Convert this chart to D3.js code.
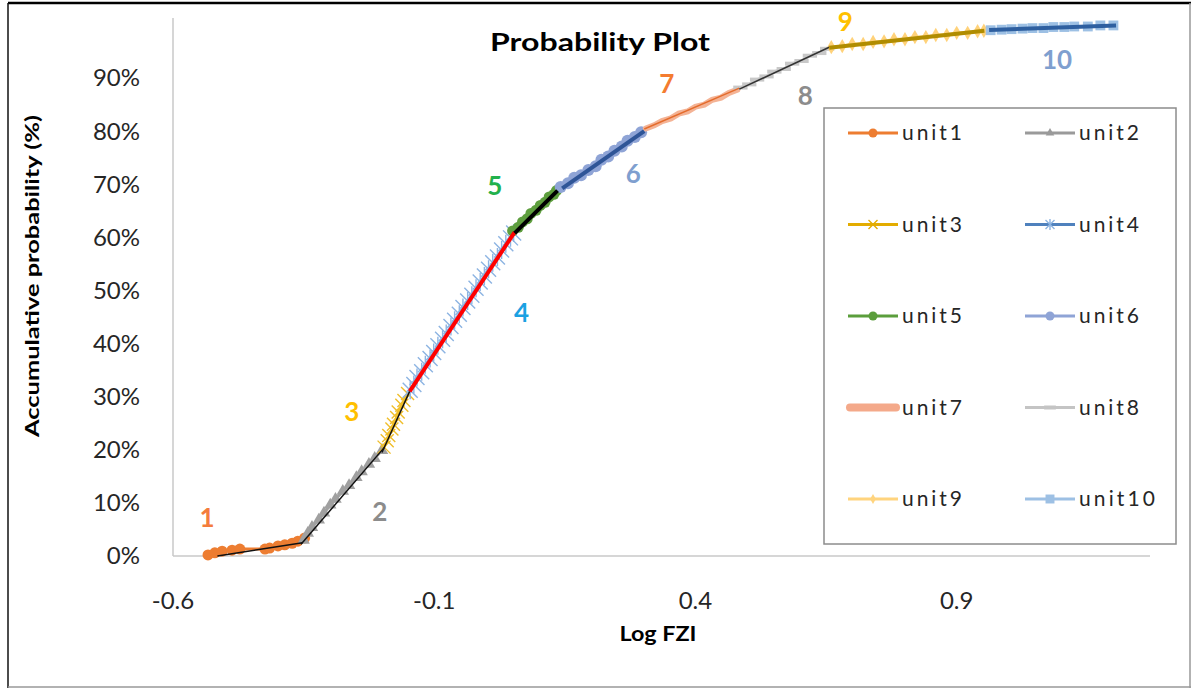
<!DOCTYPE html>
<html>
<head>
<meta charset="utf-8">
<script src="https://cdn.jsdelivr.net/npm/d3@7"></script>
<style>
  body { margin: 0; background: #fff; }
  text { font-family: Lato, "Open Sans", sans-serif; }
</style>
</head>
<body>
<svg id="chart" width="1197" height="693"></svg>
<script>
// readings: [log FZI, cumulative probability]
var unit1 = [[-0.533,0.002],[-0.520,0.006],[-0.506,0.009],[-0.487,0.011],[-0.472,0.013],[-0.424,0.013],
  [-0.415,0.015],[-0.399,0.019],[-0.386,0.021],[-0.372,0.024],[-0.361,0.028],[-0.348,0.034]]
var unit2 = [[-0.350,0.030],[-0.342,0.043],[-0.334,0.054],[-0.321,0.068],[-0.311,0.081],[-0.299,0.096],
  [-0.289,0.107],[-0.275,0.122],[-0.263,0.133],[-0.249,0.148],[-0.239,0.159],[-0.225,0.173],[-0.214,0.184],[-0.200,0.199]]
var unit3 = [[-0.196,0.205],[-0.190,0.217],[-0.187,0.227],[-0.181,0.239],[-0.178,0.248],[-0.172,0.261],
  [-0.169,0.271],[-0.162,0.284],[-0.158,0.293],[-0.151,0.306]]
var unit4 = [[-0.146,0.312],[-0.139,0.323],[-0.133,0.336],[-0.124,0.347],[-0.117,0.360],[-0.108,0.372],
  [-0.101,0.383],[-0.093,0.396],[-0.084,0.408],[-0.077,0.419],[-0.068,0.432],[-0.061,0.444],[-0.052,0.455],
  [-0.045,0.468],[-0.036,0.480],[-0.028,0.491],[-0.020,0.504],[-0.012,0.516],[-0.004,0.527],[0.004,0.540],
  [0.012,0.552],[0.021,0.563],[0.029,0.576],[0.037,0.588],[0.046,0.599],[0.052,0.608]]
var unit5 = [[0.050,0.612],[0.061,0.619],[0.069,0.629],[0.078,0.635],[0.085,0.645],[0.095,0.651],
  [0.103,0.660],[0.112,0.666],[0.120,0.676],[0.129,0.681],[0.134,0.688]]
var unit6 = [[0.142,0.695],[0.156,0.702],[0.168,0.712],[0.181,0.717],[0.195,0.727],[0.209,0.734],
  [0.220,0.746],[0.233,0.752],[0.245,0.763],[0.259,0.771],[0.270,0.782],[0.284,0.789],[0.296,0.798]]
var unit7 = [[0.305,0.805],[0.321,0.811],[0.336,0.819],[0.353,0.824],[0.368,0.833],[0.385,0.837],
  [0.400,0.846],[0.417,0.850],[0.432,0.859],[0.449,0.863],[0.464,0.872],[0.480,0.878]]
var unit8 = [[0.486,0.882],[0.503,0.888],[0.518,0.897],[0.536,0.903],[0.551,0.912],[0.569,0.917],
  [0.585,0.927],[0.603,0.932],[0.619,0.942],[0.637,0.947],[0.652,0.955]]
var unit9 = [[0.660,0.958],[0.681,0.960],[0.700,0.964],[0.721,0.964],[0.740,0.968],[0.761,0.969],
  [0.780,0.973],[0.801,0.973],[0.820,0.977],[0.841,0.977],[0.860,0.981],[0.881,0.981],[0.900,0.985],
  [0.921,0.985],[0.940,0.988],[0.952,0.989]]
var unit10 = [[0.965,0.990],[0.986,0.991],[1.005,0.992],[1.026,0.993],[1.045,0.994],[1.066,0.994],
  [1.085,0.996],[1.106,0.996],[1.125,0.997],[1.151,0.997],[1.175,0.999],[1.200,0.999]]

var unitNames = ["unit1","unit2","unit3","unit4","unit5","unit6","unit7","unit8","unit9","unit10"]
var unitData = [unit1, unit2, unit3, unit4, unit5, unit6, unit7, unit8, unit9, unit10]

// straight fits drawn over each unit: [x1, p1, x2, p2]
var fitLines = [[-0.515,0.000,-0.352,0.025],[-0.355,0.022,-0.195,0.205],[-0.200,0.195,-0.147,0.310],
  [-0.147,0.310,0.054,0.610],[0.054,0.608,0.136,0.688],[0.145,0.692,0.302,0.800],
  [0.302,0.804,0.484,0.881],[0.484,0.879,0.656,0.958],[0.656,0.957,0.953,0.989],[0.962,0.9905,1.205,0.999]]

// unit numbers written on the curve: [x, p]
var labelText = ["1","2","3","4","5","6","7","8","9","10"]
var labelPos = [[-0.535,0.072],[-0.204,0.083],[-0.258,0.271],[0.067,0.458],[0.016,0.697],
  [0.281,0.719],[0.345,0.889],[0.610,0.866],[0.687,1.006],[1.092,0.934]]

var xTicks = [-0.6, -0.1, 0.4, 0.9]
var yTicks = [0, 0.1, 0.2, 0.3, 0.4, 0.5, 0.6, 0.7, 0.8, 0.9]

var svg = d3.select("#chart")

var x = d3.scaleLinear().domain([-0.6, 1.27]).range([173, 1150])
var y = d3.scaleLinear().domain([0, 1.013]).range([556, 18])

// look of each unit
var lineColor   = ["#ED7D31","#9A9A9A","#E3AC00","#4F81BD","#5B9E3C","#8FA4D6","#F4A98A","#C4C4C4","#FFD47E","#9DC0E4"]
var markColor   = ["#ED7D31","#A0A0A0","#F0BE2A","#8DB4E2","#5E9E3E","#8FA4D6","#F4B395","#C8C8C8","#FFD27A","#9DC0E4"]
var markShape   = ["circle","triangle","x","star","circle","circle","none","dash","diamond","square"]
var markSize    = [5.5, 6.5, 6.5, 7.5, 5.5, 6, 0, 5.5, 6.5, 5.5]
var fitColor    = ["#111","#111","#111","#FF0000","#000","#2F5597","#E46C2C","#333","#B08C00","#2E5FA0"]
var fitWidth    = [1.5, 1.5, 1.5, 4, 4, 4, 1.5, 1.5, 4, 4]
var labelColor  = ["#F47C3C","#8C8C8C","#FFC000","#1BA1E2","#22B14C","#7F9FCF","#F47C30","#8C8C8C","#FFC000","#7F9FCF"]

function markerPath(shape, s) {
  if (shape == "circle") return d3.symbol(d3.symbolCircle, s * s * 3.14)()
  if (shape == "triangle") return d3.symbol(d3.symbolTriangle, s * s * 1.6)()
  if (shape == "diamond") return d3.symbol(d3.symbolDiamond, s * s * 1.4)()
  if (shape == "square") return d3.symbol(d3.symbolSquare, s * s * 3.2)()
  if (shape == "x") return "M" + (-s) + "," + (-s) + "L" + s + "," + s + "M" + (-s) + "," + s + "L" + s + "," + (-s)
  if (shape == "star") return "M" + (-s) + "," + (-s) + "L" + s + "," + s + "M" + (-s) + "," + s + "L" + s + "," + (-s) +
      "M0," + (-s * 1.2) + "L0," + (s * 1.2)
  if (shape == "dash") return "M" + (-s * 1.3) + ",-2H" + (s * 1.3) + "V2H" + (-s * 1.3) + "Z"
  return null
}

function drawMarker(g, shape, color, s) {
  var p = markerPath(shape, s)
  if (!p) return
  var path = g.append("path").attr("d", p)
  if (shape == "x" || shape == "star") {
    path.attr("fill", "none").attr("stroke", color).attr("stroke-width", 1.4)
  } else {
    path.attr("fill", color)
  }
}

// chart frame
svg.append("line").attr("x1", 8).attr("x2", 1191).attr("y1", 3).attr("y2", 3).attr("stroke", "#000").attr("stroke-width", 2.5)
svg.append("line").attr("x1", 8).attr("x2", 8).attr("y1", 3).attr("y2", 688).attr("stroke", "#111").attr("stroke-width", 1.5)
svg.append("line").attr("x1", 1190).attr("x2", 1190).attr("y1", 3).attr("y2", 688).attr("stroke", "#999").attr("stroke-width", 1.5)
svg.append("line").attr("x1", 8).attr("x2", 1191).attr("y1", 687).attr("y2", 687).attr("stroke", "#999").attr("stroke-width", 1.5)

// axes
svg.append("line").attr("x1", x(-0.6)).attr("x2", x(-0.6)).attr("y1", y(1.013)).attr("y2", y(0))
  .attr("stroke", "#C8C8C8").attr("stroke-width", 1.5)
svg.append("line").attr("x1", x(-0.6)).attr("x2", x(1.27)).attr("y1", y(0)).attr("y2", y(0))
  .attr("stroke", "#C8C8C8").attr("stroke-width", 1.5)

svg.append("g").selectAll("text").data(yTicks).enter().append("text")
  .attr("x", 140).attr("y", function(d) { return y(d) })
  .attr("dy", "0.35em").attr("text-anchor", "end")
  .attr("font-size", 24).attr("fill", "#262626")
  .text(d3.format(".0%"))

svg.append("g").selectAll("text").data(xTicks).enter().append("text")
  .attr("x", function(d) { return x(d) }).attr("y", 601)
  .attr("dy", "0.35em").attr("text-anchor", "middle")
  .attr("font-size", 24).attr("fill", "#262626")
  .text(function(d) { return d3.format(".1f")(d).replace("−", "-") })

svg.append("text").attr("x", 600).attr("y", 42).attr("dy", "0.35em").attr("text-anchor", "middle")
  .attr("font-size", 25).attr("font-weight", "bold").attr("fill", "#000")
  .attr("textLength", 220).attr("lengthAdjust", "spacingAndGlyphs").text("Probability Plot")
svg.append("text").attr("x", 658).attr("y", 634).attr("dy", "0.35em").attr("text-anchor", "middle")
  .attr("font-size", 20).attr("font-weight", "bold").attr("fill", "#000")
  .attr("textLength", 77).attr("lengthAdjust", "spacingAndGlyphs").text("Log FZI")
svg.append("text").attr("transform", "translate(32,276) rotate(-90)").attr("dy", "0.35em").attr("text-anchor", "middle")
  .attr("font-size", 19).attr("font-weight", "bold").attr("fill", "#000")
  .attr("textLength", 322).attr("lengthAdjust", "spacingAndGlyphs").text("Accumulative probability (%)")

// series
var line = d3.line().x(function(d) { return x(d[0]) }).y(function(d) { return y(d[1]) })
var plot = svg.append("g")

unitData.forEach(function(pts, i) {
  var g = plot.append("g").attr("class", unitNames[i])
  g.append("path").datum(pts).attr("d", line).attr("fill", "none")
    .attr("stroke", markColor[i]).attr("stroke-width", i == 6 ? 6 : 3).attr("stroke-linecap", "round")
  g.selectAll("g").data(pts).enter().append("g")
    .attr("transform", function(d) { return "translate(" + x(d[0]) + "," + y(d[1]) + ")" })
    .each(function() {
      drawMarker(d3.select(this), markShape[i], markColor[i], markSize[i])
    })
})

plot.append("g").selectAll("line").data(fitLines).enter().append("line")
  .attr("x1", function(d) { return x(d[0]) }).attr("y1", function(d) { return y(d[1]) })
  .attr("x2", function(d) { return x(d[2]) }).attr("y2", function(d) { return y(d[3]) })
  .attr("stroke", function(d, i) { return fitColor[i] })
  .attr("stroke-width", function(d, i) { return fitWidth[i] })

svg.append("g").selectAll("text").data(labelText).enter().append("text")
  .attr("x", function(d, i) { return x(labelPos[i][0]) })
  .attr("y", function(d, i) { return y(labelPos[i][1]) })
  .attr("dy", "0.35em").attr("text-anchor", "middle")
  .attr("font-size", 26).attr("font-weight", "bold")
  .attr("fill", function(d, i) { return labelColor[i] })
  .text(function(d) { return d })

// legend
var legend = svg.append("g")
legend.append("rect").attr("x", 824).attr("y", 108).attr("width", 352).attr("height", 436)
  .attr("fill", "#fff").attr("stroke", "#8c8c8c").attr("stroke-width", 1.5)

unitNames.forEach(function(name, i) {
  var col = i % 2, row = Math.floor(i / 2)
  var lx = col == 0 ? 848 : 1025
  var ly = 133 + row * 91.5
  var g = legend.append("g").attr("transform", "translate(" + lx + "," + ly + ")")
  g.append("line").attr("x1", i == 6 ? 2 : 0).attr("x2", i == 6 ? 48 : 50).attr("y1", 0).attr("y2", 0)
    .attr("stroke", lineColor[i]).attr("stroke-width", i == 6 ? 8 : 3).attr("stroke-linecap", i == 6 ? "round" : "butt")
  var m = g.append("g").attr("transform", "translate(25,0)")
  drawMarker(m, markShape[i], i == 3 ? markColor[i] : lineColor[i], i == 9 ? 5 : 4.5)
  g.append("text").attr("x", 54).attr("y", 0).attr("dy", "0.35em")
    .attr("font-size", 21).attr("fill", "#262626")
    .attr("textLength", i == 9 ? 76 : 60).attr("lengthAdjust", "spacing").text(name)
})
</script>
</body>
</html>
